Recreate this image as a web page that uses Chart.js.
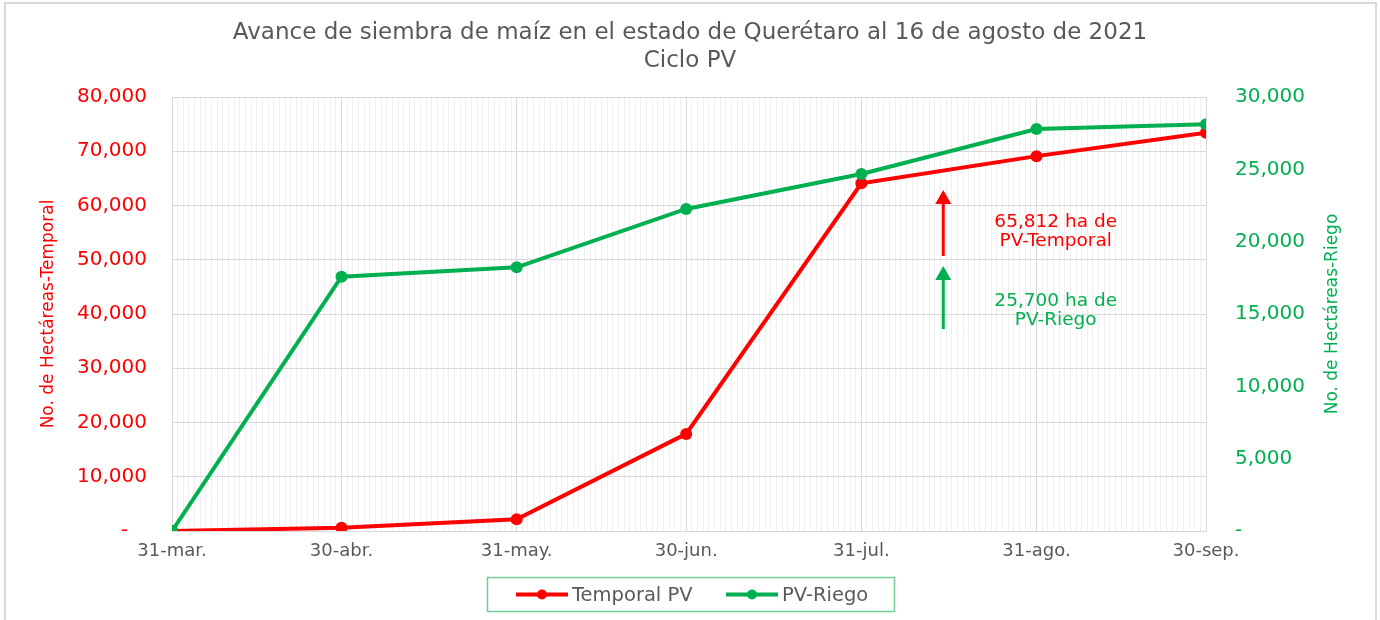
<!DOCTYPE html>
<html><head><meta charset="utf-8">
<script src="https://cdn.jsdelivr.net/npm/chart.js@4/dist/chart.umd.min.js"></script>
<style>html,body{margin:0;padding:0;background:#fff;overflow:hidden}</style>
</head><body>
<canvas id="c" width="1380" height="620"></canvas>
<script>
// ---- data ----
const dates = ['2021-03-31','2021-04-30','2021-05-31','2021-06-30','2021-07-31','2021-08-31','2021-09-30'];
const dateLabels = ['31-mar.','30-abr.','31-may.','30-jun.','31-jul.','31-ago.','30-sep.'];
const temporalPV = [0, 600, 2150, 17900, 64100, 69100, 73400];
const pvRiego = [0, 17580, 18230, 22260, 24680, 27790, 28110];
const seriesNames = ['Temporal PV', 'PV-Riego'];
const titleLines = ['Avance de siembra de maíz en el estado de Querétaro al 16 de agosto de 2021', 'Ciclo PV'];
const leftAxisTitle = 'No. de Hectáreas-Temporal';
const rightAxisTitle = 'No. de Hectáreas-Riego';
const noteTemporal = ['65,812 ha de', 'PV-Temporal'];
const noteRiego = ['25,700 ha de', 'PV-Riego'];

// ---- derived ----
const DAY = 86400000;
const dayOf = d => Math.round((Date.parse(d) - Date.parse(dates[0])) / DAY);
const dayVals = dates.map(dayOf);
const lastDay = dayVals[dayVals.length - 1];
const labelByDay = {};
dayVals.forEach((d, i) => labelByDay[d] = dateLabels[i]);

const FONT = 'DejaVu Sans';
const RED = '#ff0000', GREEN = '#00b050', GRAY = '#595959';

const decor = {
  id: 'decor',
  beforeDraw(chart) {
    const ctx = chart.ctx;
    ctx.save();
    ctx.fillStyle = '#fff';
    ctx.fillRect(0, 0, chart.width, chart.height);
    ctx.strokeStyle = '#d9d9d9';
    ctx.lineWidth = 2;
    ctx.strokeRect(5, 3, chart.width - 9, chart.height + 20);
    ctx.restore();
  },
  afterDraw(chart) {
    const ctx = chart.ctx;
    const sx = chart.scales.x, sy = chart.scales.y, sy1 = chart.scales.y1;
    const area = chart.chartArea;
    ctx.save();
    // right axis title (reads bottom to top)
    ctx.save();
    ctx.translate(1333, (area.top + area.bottom) / 2);
    ctx.rotate(-Math.PI / 2);
    ctx.font = '17px "' + FONT + '"';
    ctx.fillStyle = GREEN; ctx.textAlign = 'center'; ctx.textBaseline = 'middle';
    ctx.fillText(rightAxisTitle, 0, 0);
    ctx.restore();
    // arrows
    const arrow = (x, yTip, yBot, color) => {
      ctx.strokeStyle = color; ctx.fillStyle = color; ctx.lineWidth = 3;
      ctx.beginPath(); ctx.moveTo(x, yBot); ctx.lineTo(x, yTip + 10); ctx.stroke();
      ctx.beginPath(); ctx.moveTo(x, yTip); ctx.lineTo(x - 8, yTip + 14); ctx.lineTo(x + 8, yTip + 14); ctx.closePath(); ctx.fill();
    };
    const ax = sx.getPixelForValue(136.5);
    arrow(ax, sy.getPixelForValue(62860), sy.getPixelForValue(50690), RED);
    arrow(ax, sy1.getPixelForValue(18320), sy1.getPixelForValue(13960), GREEN);
    // notes
    ctx.font = '18.5px "' + FONT + '"';
    ctx.textAlign = 'center'; ctx.textBaseline = 'middle';
    const tx = sx.getPixelForValue(156.4);
    ctx.fillStyle = RED;
    ctx.fillText(noteTemporal[0], tx, sy.getPixelForValue(57010));
    ctx.fillText(noteTemporal[1], tx, sy.getPixelForValue(53330));
    ctx.fillStyle = GREEN;
    ctx.fillText(noteRiego[0], tx, sy1.getPixelForValue(15900));
    ctx.fillText(noteRiego[1], tx, sy1.getPixelForValue(14540));
    // legend
    const lx = 487.5, ly = 577.5, lw = 407, lh = 34;
    ctx.strokeStyle = '#6fcf97'; ctx.lineWidth = 1.5;
    ctx.strokeRect(lx, ly, lw, lh);
    const cy = ly + lh / 2;
    const items = [{x: 516, c: RED, t: seriesNames[0]}, {x: 726, c: GREEN, t: seriesNames[1]}];
    ctx.textAlign = 'left';
    ctx.font = '19.5px "' + FONT + '"';
    items.forEach(it => {
      ctx.strokeStyle = it.c; ctx.fillStyle = it.c; ctx.lineWidth = 4;
      ctx.beginPath(); ctx.moveTo(it.x, cy); ctx.lineTo(it.x + 52, cy); ctx.stroke();
      ctx.beginPath(); ctx.arc(it.x + 26, cy, 5, 0, Math.PI * 2); ctx.fill();
      ctx.fillStyle = GRAY;
      ctx.fillText(it.t, it.x + 56, cy + 1);
    });
    ctx.restore();
  }
};

new Chart(document.getElementById('c'), {
  type: 'line',
  data: {
    datasets: [
      { label: seriesNames[0], data: dayVals.map((d, i) => ({x: d, y: temporalPV[i]})), yAxisID: 'y',
        borderColor: RED, backgroundColor: RED, borderWidth: 4, pointRadius: 6, pointBorderWidth: 0,
        pointBackgroundColor: RED, tension: 0, order: 1 },
      { label: seriesNames[1], data: dayVals.map((d, i) => ({x: d, y: pvRiego[i]})), yAxisID: 'y1',
        borderColor: GREEN, backgroundColor: GREEN, borderWidth: 4, pointRadius: 6, pointBorderWidth: 0,
        pointBackgroundColor: GREEN, tension: 0, order: 0 }
    ]
  },
  options: {
    responsive: false, animation: false, devicePixelRatio: 1,
    layout: { padding: 0 },
    plugins: {
      legend: { display: false }, tooltip: { enabled: false },
      title: { display: true, text: titleLines, color: GRAY,
        font: { family: FONT, size: 23, weight: 'normal', lineHeight: 1.2 },
        padding: { top: 19.5, bottom: 22.3 } }
    },
    scales: {
      x: {
        type: 'linear', min: 0, max: lastDay,
        afterBuildTicks: s => { s.ticks = Array.from({length: lastDay + 1}, (_, i) => ({value: i})); },
        afterFit: s => { s.height = 89; },
        ticks: { autoSkip: false, maxRotation: 0, minRotation: 0, padding: 10, color: GRAY,
          font: { family: FONT, size: 18 }, callback: v => labelByDay[v] !== undefined ? labelByDay[v] : '' },
        grid: { drawTicks: false, lineWidth: 1,
          color: c => (c.tick && labelByDay[c.tick.value] !== undefined) ? '#d9d9d9' : '#efefef' },
        border: { color: '#d9d9d9' }
      },
      y: {
        position: 'left', min: 0, max: 80000,
        afterFit: s => { s.width = 172; },
        ticks: { stepSize: 10000, padding: 25, color: RED, font: { family: FONT, size: 20 },
          callback: v => v === 0 ? '-   ' : v.toLocaleString('en-US') },
        grid: { drawTicks: false, color: '#d9d9d9' },
        border: { color: '#d9d9d9' },
        title: { display: true, text: leftAxisTitle, color: RED,
          font: { family: FONT, size: 17 }, padding: { top: 38, bottom: 0 } }
      },
      y1: {
        position: 'right', min: 0, max: 30000,
        afterFit: s => { s.width = 174; },
        ticks: { stepSize: 5000, padding: 29, color: GREEN, font: { family: FONT, size: 20 },
          callback: v => v === 0 ? '-' : v.toLocaleString('en-US') },
        grid: { drawTicks: false, drawOnChartArea: false },
        border: { color: '#d9d9d9' },
        title: { display: false }
      }
    }
  },
  plugins: [decor]
});
</script>
</body></html>
